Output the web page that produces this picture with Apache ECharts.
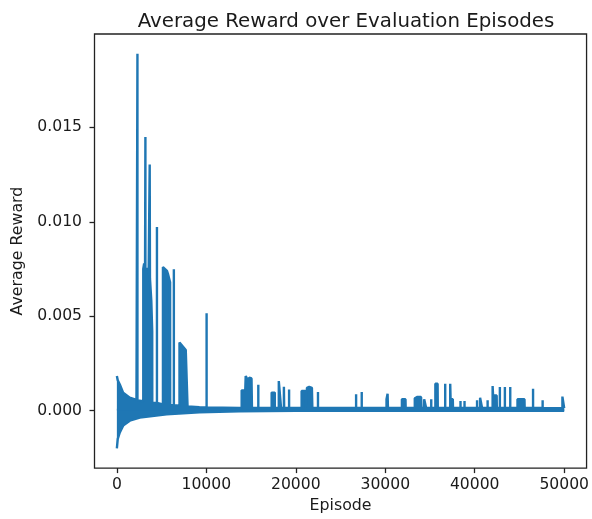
<!DOCTYPE html>
<html><head><meta charset="utf-8">
<script src="https://cdn.jsdelivr.net/npm/echarts@6/dist/echarts.min.js"></script>
<style>html,body{margin:0;padding:0;background:#fff}#chart{width:592px;height:519px}</style>
</head><body><div id="chart"></div>
<script>
const titleText = 'Average Reward over Evaluation Episodes';
const xAxisName = 'Episode';
const yAxisName = 'Average Reward';
const xTicks = [0, 10000, 20000, 30000, 40000, 50000];
const yTicks = [0, 0.005, 0.010, 0.015];

// Lower edge of the dense oscillating band
const bandLowEpisodes = [0, 100, 330, 700, 1440, 2560, 5560, 9220, 13670, 20000, 30000, 40000, 50000];
const bandLowValues = [-0.0020, -0.0015, -0.00116, -0.0008, -0.00054, -0.00037, -0.0002, -0.0001, -0.00004, -0.00002, -0.00002, -0.00002, -0.00002];

// Upper trace: band top with the reward spikes
const traceEpisodes = [
  0, 100, 330, 700, 1440, 2190,
  2300, 2300, 2300,
  2950, 2950, 3050, 3150, 3190, 3190, 3190, 3500, 3550, 3670, 3670, 3700, 3850, 3950, 3960,
  4480, 4480, 4480,
  5150, 5150, 5330, 5600, 5700, 5950, 5960,
  6370, 6370, 6370,
  7000, 7000, 7350, 7700, 7900, 7900,
  9220, 10030, 10030, 10030,
  13670, 13950, 13950, 14350, 14400, 14650, 14800, 15050, 15100,
  15810, 15810, 15810,
  17300, 17300, 17650, 17650,
  18100, 18100, 18300, 18350,
  18670, 18670, 18700,
  19250, 19250, 19250,
  20650, 20650, 21050, 21100,
  21250, 21250, 21500, 21800, 21850,
  22480, 22480, 22480,
  26740, 26740, 26740,
  27370, 27370, 27370,
  30140, 30140, 30260, 30300,
  31860, 31860, 32260, 32280,
  33300, 33300, 33600, 34000, 34050,
  34350, 34350, 34550, 34570,
  35140, 35140, 35140,
  35600, 35600, 35850, 35870,
  36700, 36700, 36700,
  37260, 37260, 37300, 37550, 37570,
  38410, 38410, 38410,
  38860, 38860, 38860,
  40260, 40260, 40260,
  40600, 40600, 40800, 40820,
  41440, 41440, 41440,
  42000, 42000, 42050, 42450, 42470,
  42810, 42810, 42810,
  43370, 43370, 43370,
  43970, 43970, 43970,
  44780, 44780, 45560, 45580,
  46520, 46520, 46520,
  47590, 47590, 47590,
  49800, 49800, 50000, 50000
];
const traceValues = [
  0.00183, 0.0016, 0.00138, 0.00095, 0.00068, 0.00056,
  0.00055, 0.0189, 0.00054,
  0.0005, 0.0075, 0.0078, 0.0075, 0.0075, 0.01449, 0.0075, 0.0075, 0.0072, 0.0072, 0.01304, 0.007, 0.0058, 0.0042, 0.00042,
  0.0004, 0.00972, 0.0004,
  0.00033, 0.0076, 0.00763, 0.0074, 0.00726, 0.0068, 0.0003,
  0.00028, 0.00749, 0.00028,
  0.00026, 0.0036, 0.0034, 0.0032, 0.00315, 0.00022,
  0.00018, 0.00017, 0.00516, 0.00017,
  0.00014, 0.00014, 0.00107, 0.00107, 0.00183, 0.0016, 0.00174, 0.0017, 0.00014,
  0.00014, 0.00137, 0.00014,
  0.00014, 0.00095, 0.00095, 0.00014,
  0.00014, 0.00156, 0.0015, 0.00014,
  0.00014, 0.00126, 0.00014,
  0.00014, 0.00112, 0.00014,
  0.00014, 0.00104, 0.00104, 0.00014,
  0.00014, 0.0012, 0.00125, 0.0012, 0.00014,
  0.00014, 0.00098, 0.00014,
  0.00014, 0.00086, 0.00014,
  0.00014, 0.00098, 0.00014,
  0.00014, 0.0006, 0.00089, 0.00014,
  0.00014, 0.0006, 0.0006, 0.00014,
  0.00014, 0.00065, 0.00072, 0.00072, 0.00014,
  0.00014, 0.0006, 0.0006, 0.00014,
  0.00014, 0.0006, 0.00014,
  0.00014, 0.00142, 0.00142, 0.00014,
  0.00014, 0.00142, 0.00014,
  0.00014, 0.00142, 0.0006, 0.0006, 0.00014,
  0.00014, 0.0005, 0.00014,
  0.00014, 0.0005, 0.00014,
  0.00014, 0.00054, 0.00014,
  0.00014, 0.00068, 0.00068, 0.00014,
  0.00014, 0.00054, 0.00014,
  0.00014, 0.0013, 0.0008, 0.0008, 0.00014,
  0.00014, 0.00125, 0.00014,
  0.00014, 0.00125, 0.00014,
  0.00014, 0.00125, 0.00014,
  0.00014, 0.0006, 0.0006, 0.00014,
  0.00014, 0.00116, 0.00014,
  0.00014, 0.00054, 0.00014,
  0.00013, 0.00074, 0.00074, 0.00013
];

const lineColor = '#1f77b4';
const textColor = '#1a1a1a';
const font = 'DejaVu Sans';

const chart = echarts.init(document.getElementById('chart'), null, {renderer: 'canvas'});
const traceData = traceEpisodes.map((e, i) => [e, traceValues[i]]);
const lowData = bandLowEpisodes.map((e, i) => [e, bandLowValues[i]]);

chart.setOption({
  animation: false,
  backgroundColor: '#fff',
  title: {
    text: titleText, left: 341, top: 7, textAlign: 'center',
    textStyle: {fontFamily: font, fontSize: 19.8, fontWeight: 'normal', color: textColor}
  },
  grid: {left: 94.5, right: 2.8, top: 34, bottom: 48, show: true, borderColor: '#222', borderWidth: 1.3, containLabel: false},
  xAxis: {
    type: 'value', min: -2500, max: 52500,
    name: xAxisName, nameLocation: 'middle', nameGap: 28,
    nameTextStyle: {fontFamily: font, fontSize: 15.8, color: textColor},
    axisLine: {show: false, onZero: false},
    splitLine: {show: false},
    axisTick: {show: true, inside: false, length: 5, customValues: xTicks, lineStyle: {color: '#222', width: 1.3}},
    axisLabel: {customValues: xTicks, margin: 9, fontFamily: font, fontSize: 15.6, color: textColor, formatter: v => String(v)}
  },
  yAxis: {
    type: 'value', min: -0.00305, max: 0.01995,
    name: yAxisName, nameLocation: 'middle', nameGap: 69, nameRotate: 90,
    nameTextStyle: {fontFamily: font, fontSize: 15.8, color: textColor},
    axisLine: {show: false, onZero: false},
    splitLine: {show: false},
    axisTick: {show: true, inside: false, length: 5, customValues: yTicks, lineStyle: {color: '#222', width: 1.3}},
    axisLabel: {customValues: yTicks, margin: 12.5, fontFamily: font, fontSize: 15.6, color: textColor, formatter: v => v.toFixed(3)}
  },
  series: [
    {
      type: 'line', data: lowData, showSymbol: false, silent: true,
      lineStyle: {color: lineColor, width: 2.4, join: 'bevel'},
      areaStyle: {color: lineColor, opacity: 1, origin: 0.0001}
    },
    {
      type: 'line', data: traceData, showSymbol: false, silent: true,
      lineStyle: {color: lineColor, width: 2.4, join: 'bevel'},
      areaStyle: {color: lineColor, opacity: 1}
    }
  ]
});
</script></body></html>
